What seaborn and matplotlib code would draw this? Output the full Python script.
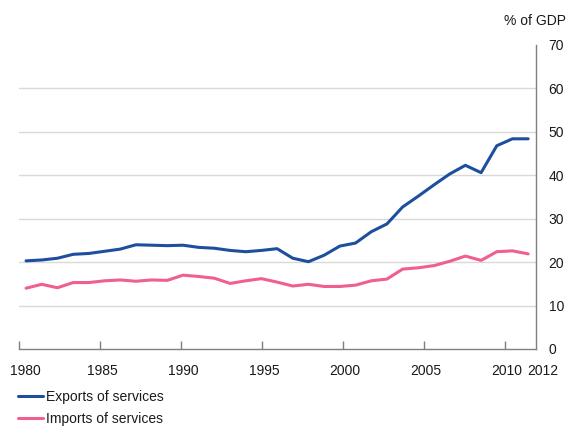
import matplotlib
matplotlib.use("Agg")
import matplotlib.pyplot as plt
import matplotlib.transforms as mtransforms
import pandas as pd
import seaborn as sns

# values (% of GDP)
years = list(range(1980, 2013))
exports = [20.3, 20.5, 20.9, 21.8, 22.0, 22.5, 23.0, 24.0, 23.9, 23.8,
           23.9, 23.4, 23.2, 22.7, 22.4, 22.7, 23.1, 20.9, 20.1, 21.6,
           23.7, 24.4, 27.0, 28.8, 32.7, 35.2, 37.8, 40.3, 42.3, 40.6,
           46.8, 48.4, 48.4]
imports = [14.0, 14.9, 14.1, 15.3, 15.3, 15.7, 15.9, 15.6, 15.9, 15.8,
           17.0, 16.7, 16.3, 15.1, 15.7, 16.2, 15.4, 14.5, 14.9, 14.4,
           14.4, 14.7, 15.7, 16.1, 18.4, 18.7, 19.2, 20.2, 21.4, 20.4,
           22.4, 22.6, 21.9]
series_names = ["Exports of services", "Imports of services"]
tick_years = [1980, 1985, 1990, 1995, 2000, 2005, 2010]
end_label = "2012"
y_ticks = [0, 10, 20, 30, 40, 50, 60, 70]
unit_label = "% of GDP"

colors = ["#1d4f9e", "#ef5f8f"]
text_color = "#1a1a1a"
axis_grey = "#7f7f7f"

df = pd.DataFrame({
    "year": years * 2,
    "value": exports + imports,
    "series": [series_names[0]] * len(years) + [series_names[1]] * len(years),
})

sns.set_theme(style="white")
plt.rcParams["font.family"] = ["Liberation Sans", "DejaVu Sans"]
plt.rcParams["font.size"] = 10

fig = plt.figure(figsize=(5.69, 4.28), dpi=100)
ax = fig.add_axes([19 / 569, 79 / 428, 517 / 569, 304 / 428])

sns.lineplot(data=df, x="year", y="value", hue="series", hue_order=series_names,
             palette=colors, linewidth=2.2, ax=ax, legend=False)

# the date axis of the original is slightly stretched relative to the points
x0, x1 = 1979.55, 2012.5
ax.set_xlim(x0, x1)
ax.set_ylim(0, 70)
tick_pos = [x0 + (y - 1980) * 1.0325 for y in tick_years]
ax.set_xticks(tick_pos)
ax.set_xticklabels([str(y) for y in tick_years])
ax.tick_params(axis="x", direction="in", length=5.5, width=1, color=axis_grey,
               pad=11, labelsize=10, labelcolor=text_color, bottom=True)
for i, lab in enumerate(ax.get_xticklabels()):
    dx = 6.5 if i == 0 else 2.0
    lab.set_transform(lab.get_transform()
                      + mtransforms.ScaledTranslation(dx / 100, 0, fig.dpi_scale_trans))

ax.annotate(end_label, xy=(1, 0), xycoords="axes fraction", xytext=(5, -11),
            textcoords="offset points", ha="center", va="top",
            fontsize=10, color=text_color)

ax.yaxis.tick_right()
ax.set_yticks(y_ticks)
ax.tick_params(axis="y", length=0, pad=9, labelsize=10, labelcolor=text_color)
ax.set_xlabel("")
ax.set_ylabel("")

for y in y_ticks[1:-1]:
    ax.axhline(y, color="#d9d9d9", linewidth=1, zorder=0)

for side in ["top", "left"]:
    ax.spines[side].set_visible(False)
for side in ["bottom", "right"]:
    ax.spines[side].set_color(axis_grey)
    ax.spines[side].set_linewidth(1)

fig.text(566 / 569, 1 - 21 / 428, unit_label, ha="right", va="center",
         fontsize=10, color=text_color)

handles = [plt.Line2D([], [], color=c, linewidth=2.2) for c in colors]
fig.legend(handles, series_names, loc="upper left",
           bbox_to_anchor=(18 / 569, 1 - 390 / 428), frameon=False,
           borderaxespad=0, borderpad=0, handlelength=1.8, handletextpad=0.25,
           labelspacing=0.6, fontsize=10, labelcolor=text_color)

fig.savefig("out.png", dpi=100)
